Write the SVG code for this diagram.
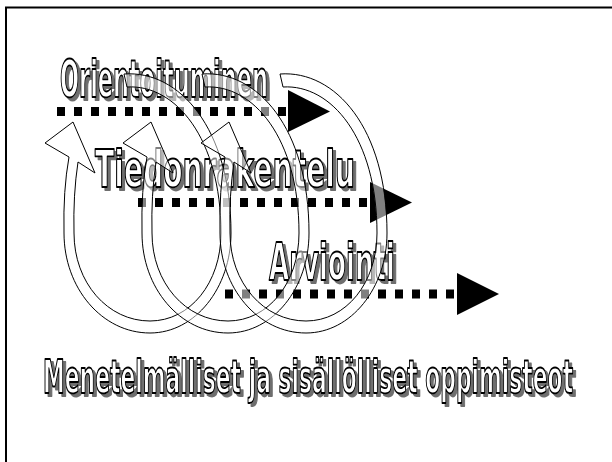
<svg xmlns="http://www.w3.org/2000/svg" width="612" height="462" viewBox="0 0 612 462">
  <defs>
    <filter id="sh" x="-5%" y="-20%" width="115%" height="150%">
      <feFlood flood-color="#6e6e6e" result="c"/>
      <feComposite in="c" in2="SourceAlpha" operator="in" result="s"/>
      <feOffset in="s" dx="3" dy="3" result="o"/>
      <feMerge><feMergeNode in="o"/><feMergeNode in="SourceGraphic"/></feMerge>
    </filter>
    <path id="loop" d="M124 74 C179 70 231 128 231 233 C231 288 195 333 150 333 C102 333 64 288 64 233 Q63 190 69 157 L45 143 L73 122 L95 173 L78 162 Q73 195 74 233 C74 283 108 321 150 321 C190 321 221 283 221 233 C221 138 175 84 127 87 Z"/>
  </defs>
  <style>
    .lbl { font-family: "DejaVu Sans", "Liberation Sans", sans-serif; font-weight: bold; fill: #fff; stroke: #000; stroke-width: 1.5; stroke-linejoin: round; vector-effect: non-scaling-stroke; }
    .dots { stroke: #000; stroke-width: 9; stroke-dasharray: 8 9; fill: none; }
    .head { fill: #000; }
    .rib { fill: #fff; fill-opacity: 0.5; stroke: #000; stroke-width: 1; }
  </style>
  <rect x="6" y="7.5" width="700" height="600" fill="none" stroke="#000" stroke-width="2"/>
  <g id="node-orientoituminen" filter="url(#sh)">
    <text class="lbl" transform="translate(60,97) scale(0.5,1)" x="0" y="0" font-size="51" textLength="416" lengthAdjust="spacingAndGlyphs">Orientoituminen</text>
  </g>
  <g id="node-tiedonrakentelu" filter="url(#sh)">
    <text class="lbl" transform="translate(95,187) scale(0.5,1)" x="0" y="0" font-size="51" textLength="520" lengthAdjust="spacingAndGlyphs">Tiedonrakentelu</text>
  </g>
  <g id="node-arviointi" filter="url(#sh)">
    <text class="lbl" transform="translate(269,280) scale(0.5,1)" x="0" y="0" font-size="51" textLength="252" lengthAdjust="spacingAndGlyphs">Arviointi</text>
  </g>
  <g id="node-oppimisteot" filter="url(#sh)">
    <text class="lbl" transform="translate(43,393) scale(0.45,1)" x="0" y="0" font-size="47" textLength="1178" lengthAdjust="spacingAndGlyphs">Menetelmälliset ja sisällölliset oppimisteot</text>
  </g>
  <g id="connectors">
    <line class="dots" x1="57" y1="111.5" x2="286" y2="111.5"/>
    <polygon class="head" points="288,90 330,111.5 288,132"/>
    <line class="dots" x1="138" y1="202.5" x2="367" y2="202.5"/>
    <polygon class="head" points="370,182 412,202.5 370,223"/>
    <line class="dots" x1="225" y1="294" x2="454" y2="294"/>
    <polygon class="head" points="457,273 499,294 457,315"/>
  </g>
  <g id="spiral">
    <use href="#loop" class="rib"/>
    <use href="#loop" class="rib" x="78"/>
    <use href="#loop" class="rib" x="156"/>
  </g>
</svg>
